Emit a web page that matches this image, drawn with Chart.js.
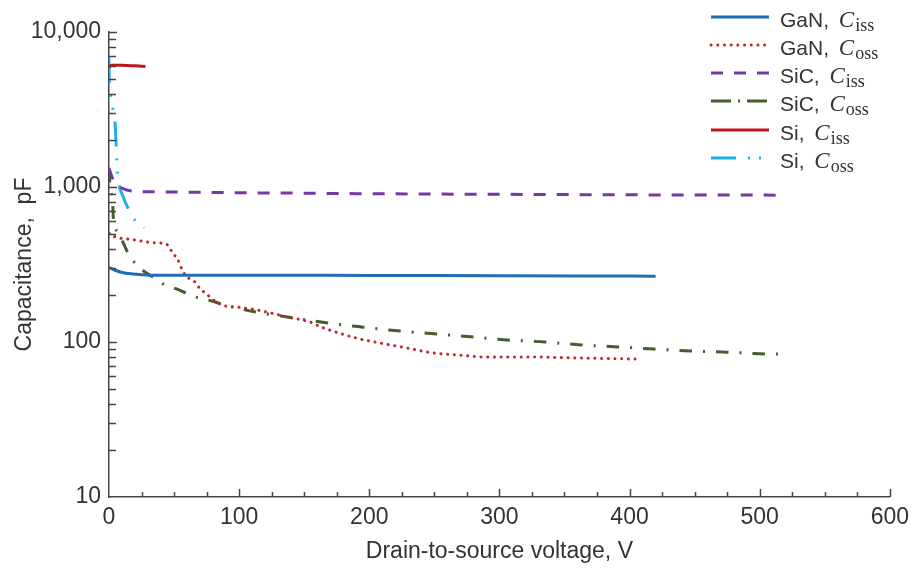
<!DOCTYPE html>
<html>
<head>
<meta charset="utf-8">
<script src="https://cdn.jsdelivr.net/npm/chart.js@4.4.1/dist/chart.umd.min.js"></script>
<style>
  html, body { margin: 0; padding: 0; background: #fff; }
  #wrap { width: 916px; height: 570px; }
</style>
</head>
<body>
<div id="wrap"><canvas id="cap" width="916" height="570"></canvas></div>
<script>
// values (V, pF)
const ganCissV = [0, 3, 8, 13, 18, 25, 31, 60, 100, 200, 300, 370, 420];
const ganCissC = [303, 295, 284, 278, 275, 272, 270, 270, 270, 269, 268, 267, 266];

const ganCossV = [0, 3, 8, 18, 29, 39, 44, 49, 53, 57, 61, 66, 70, 75, 80, 89, 98, 110, 124, 137, 154, 163, 177, 193, 208, 229, 249, 269, 290, 325, 361, 408];
const ganCossC = [505, 483, 469, 458, 442, 435, 429, 375, 338, 283, 259, 244, 220, 204, 187, 171, 168, 163, 154, 145, 135, 125, 114, 104.5, 98.6, 91.5, 85, 82.4, 80, 80, 78.8, 77.6];

const sicCissV = [0, 2.3, 5, 8.4, 13, 18, 30, 50, 100, 150, 200, 300, 400, 520];
const sicCissC = [1327, 1160, 1060, 1000, 960, 940, 932, 929, 918, 912, 905, 897, 890, 886];

const sicCossV = [0, 0.8, 2.3, 3, 3.3, 7, 10, 14.6, 20, 27.6, 35, 43, 52, 61, 69, 79, 89, 113, 137, 167, 194, 222, 250, 278, 306, 335, 363, 391, 419, 447, 475, 505, 519];
const sicCossC = [1288, 1030, 861, 732, 631, 512, 455, 375, 323, 283, 259, 233, 220, 204, 192, 184, 173, 156, 145, 133, 125, 118, 113, 108, 103, 100, 95.7, 93, 90, 87.5, 86, 83.7, 83.5];

const siCissV = [0, 2, 10, 20, 28];
const siCissC = [5950, 6100, 6100, 6050, 6000];

const siCossV = [0, 0.3, 1.5, 3, 4.6, 5.6, 6, 6.5, 7.7, 10, 14.6, 20, 27];
const siCossC = [6800, 4700, 3860, 3190, 2630, 1810, 1520, 1230, 1030, 900, 730, 612, 544];

const xTicks = [0, 100, 200, 300, 400, 500, 600];
const yTicks = [10, 100, 1000, 10000];

const legendNames = ['GaN', 'GaN', 'SiC', 'SiC', 'Si', 'Si'];
const legendSubs = ['iss', 'oss', 'iss', 'oss', 'iss', 'oss'];

const SANS = '"Liberation Sans", Arial, sans-serif';
const SERIF = '"Liberation Serif", "Times New Roman", serif';
const INK = '#333333';

function pts(xs, ys) { return xs.map((x, i) => ({ x, y: ys[i] })); }

function line(label, xs, ys, color, dash, extra) {
  return Object.assign({
    label, data: pts(xs, ys),
    borderColor: color, backgroundColor: color,
    borderWidth: 3, borderDash: dash, pointRadius: 0,
    cubicInterpolationMode: 'monotone', fill: false
  }, extra || {});
}

// inward tick marks + custom legend with subscripts
const decor = {
  id: 'decor',
  afterDraw(chart) {
    const ctx = chart.ctx;
    const xs = chart.scales.x, ys = chart.scales.y;
    const a = chart.chartArea;
    ctx.save();
    ctx.strokeStyle = '#444';
    ctx.lineWidth = 1.5;
    ctx.setLineDash([]);
    ctx.beginPath();
    for (let v = 25; v <= 600; v += 25) {
      const px = Math.round(xs.getPixelForValue(v)) + 0.5;
      const len = v % 100 === 0 ? 8 : 5;
      ctx.moveTo(px, a.bottom);
      ctx.lineTo(px, a.bottom - len);
    }
    for (let e = 10; e <= 10000; e *= 10) {
      for (let m = 1; m <= 9; m++) {
        const v = m * e;
        if (v > 10000) break;
        if (v === 10) continue;
        const py = Math.round(ys.getPixelForValue(v)) + 0.5;
        const len = m === 1 ? 8 : 7;
        ctx.moveTo(a.left, py);
        ctx.lineTo(a.left + len, py);
      }
    }
    ctx.stroke();

    // legend
    const sets = chart.data.datasets;
    const rowY = [17, 45, 73, 101, 130, 158];
    sets.forEach((ds, i) => {
      const y = rowY[i];
      ctx.strokeStyle = ds.borderColor;
      ctx.lineWidth = ds.borderWidth;
      ctx.lineCap = ds.borderCapStyle || 'butt';
      ctx.setLineDash(ds.legendDash || ds.borderDash || []);
      ctx.beginPath();
      ctx.moveTo(711, y);
      ctx.lineTo(769, y);
      ctx.stroke();
      ctx.setLineDash([]);
      ctx.lineCap = 'butt';

      const base = y + 10;
      let tx = 780;
      ctx.fillStyle = INK;
      ctx.textBaseline = 'alphabetic';
      ctx.textAlign = 'left';
      ctx.font = '21px ' + SANS;
      const head = legendNames[i] + ', ';
      ctx.fillText(head, tx, base);
      tx += ctx.measureText(head).width + 4;
      ctx.font = 'italic 23px ' + SERIF;
      ctx.fillText('C', tx, base);
      tx += ctx.measureText('C').width + 1;
      ctx.font = '18px ' + SERIF;
      ctx.fillText(legendSubs[i], tx, base + 4);
    });
    ctx.restore();
  }
};

new Chart(document.getElementById('cap'), {
  type: 'line',
  data: {
    datasets: [
      line('GaN, Ciss', ganCissV, ganCissC, '#1f6db5', []),
      line('GaN, Coss', ganCossV, ganCossC, '#c0282d', [0.1, 6.6], { borderCapStyle: 'round', borderWidth: 3 }),
      line('SiC, Ciss', sicCissV, sicCissC, '#7539a6', [12, 11], { legendDash: [12, 11] }),
      line('SiC, Coss', sicCossV, sicCossC, '#435e2c', [12.5, 11, 2, 11], { legendDash: [20, 7, 2, 7] }),
      line('Si, Ciss', siCissV, siCissC, '#c0141b', []),
      line('Si, Coss', siCossV, siCossC, '#1eb0e6', [25, 12, 2, 11, 2, 12], { legendDash: [25, 12, 2, 9, 2, 12] })
    ]
  },
  options: {
    responsive: false,
    animation: false,
    devicePixelRatio: 1,
    layout: { padding: { top: 32, right: 25, left: 0, bottom: 0 } },
    plugins: { legend: { display: false }, tooltip: { enabled: false } },
    scales: {
      x: {
        type: 'linear', min: 0, max: 600,
        afterBuildTicks: s => { s.ticks = xTicks.map(v => ({ value: v })); },
        afterFit: s => { s.height = 73; },
        grid: { display: false, drawTicks: false },
        border: { display: true, color: '#444', width: 1.5 },
        ticks: { color: INK, font: { family: SANS, size: 23 }, padding: 7, maxRotation: 0, callback: v => String(v) },
        title: { display: true, text: 'Drain-to-source voltage, V', color: INK, font: { family: SANS, size: 23 }, padding: { top: 0, bottom: 5 } }
      },
      y: {
        type: 'logarithmic', min: 10, max: 10000,
        afterBuildTicks: s => { s.ticks = yTicks.map(v => ({ value: v, major: true })); },
        afterFit: s => { s.width = 109; },
        grid: { display: false, drawTicks: false },
        border: { display: true, color: '#444', width: 1.5 },
        ticks: { color: INK, font: { family: SANS, size: 23 }, padding: 8, callback: v => Number(v).toLocaleString('en-US') },
        title: { display: true, text: 'Capacitance,  pF', color: INK, font: { family: SANS, size: 23 }, padding: { top: 11, bottom: 0 } }
      }
    }
  },
  plugins: [decor]
});
</script>
</body>
</html>
